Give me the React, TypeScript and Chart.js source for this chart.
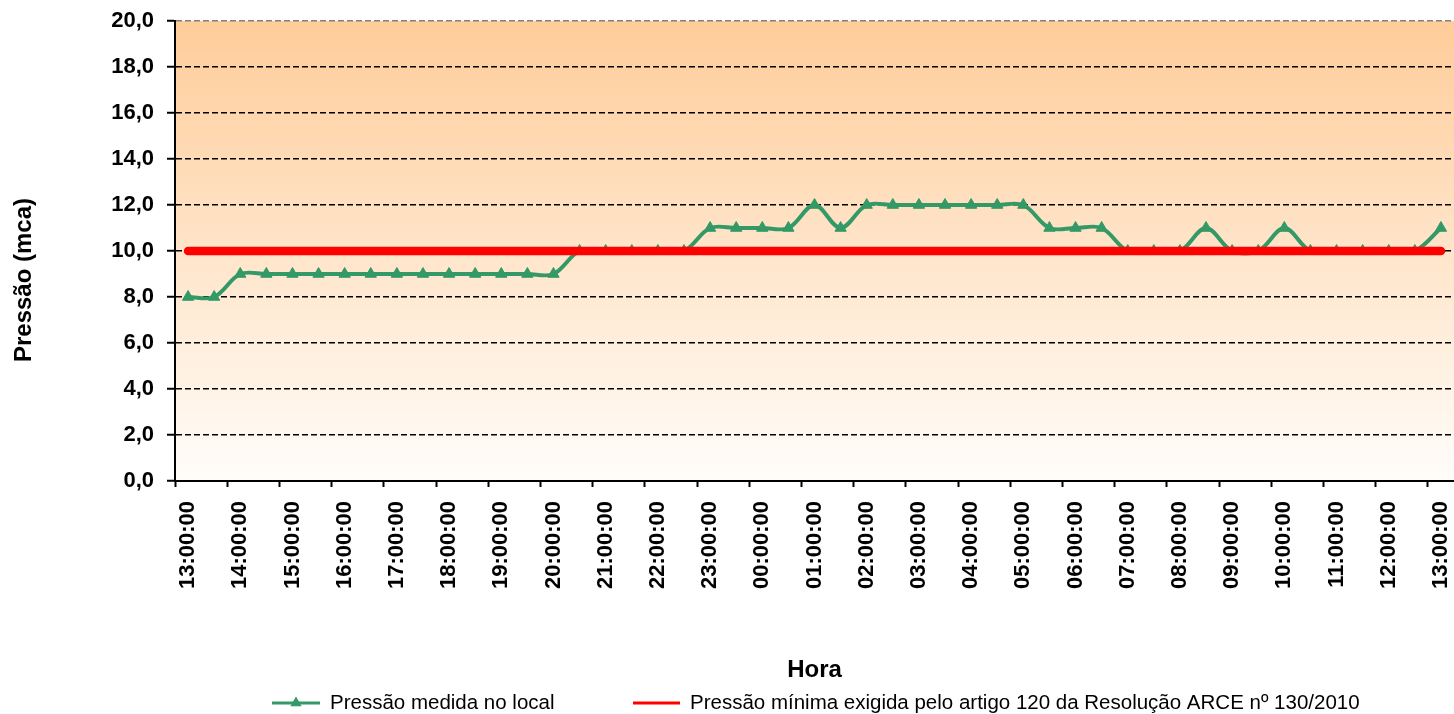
import React, { useEffect, useRef } from "react";
import { Chart, registerables } from "chart.js";

Chart.register(...registerables);

const hourLabels = [
  "13:00:00", "14:00:00", "15:00:00", "16:00:00", "17:00:00", "18:00:00", "19:00:00",
  "20:00:00", "21:00:00", "22:00:00", "23:00:00", "00:00:00", "01:00:00", "02:00:00",
  "03:00:00", "04:00:00", "05:00:00", "06:00:00", "07:00:00", "08:00:00", "09:00:00",
  "10:00:00", "11:00:00", "12:00:00", "13:00:00",
];

const measuredPressure = [
  8, 8, 9, 9, 9, 9, 9, 9, 9, 9, 9, 9, 9, 9, 9, 10, 10, 10, 10, 10, 11, 11, 11, 11, 12,
  11, 12, 12, 12, 12, 12, 12, 12, 11, 11, 11, 10, 10, 10, 11, 10, 10, 11, 10, 10, 10,
  10, 10, 11,
];

const minimumPressure = [
  10, 10, 10, 10, 10, 10, 10, 10, 10, 10, 10, 10, 10, 10, 10, 10, 10, 10, 10, 10, 10,
  10, 10, 10, 10, 10, 10, 10, 10, 10, 10, 10, 10, 10, 10, 10, 10, 10, 10, 10, 10, 10,
  10, 10, 10, 10, 10, 10, 10,
];

const seriesNames = [
  "Pressão medida no local",
  "Pressão mínima exigida pelo artigo 120 da Resolução ARCE nº 130/2010",
];
const yTitle = "Pressão (mca)";
const xTitle = "Hora";

const GREEN = "#339966";
const RED = "#FF0000";
const FONT = "'Liberation Sans', Arial, sans-serif";

// half-hour categories, labelled on the hour
const categories = hourLabels.flatMap((h, i) => (i < hourLabels.length - 1 ? [h, ""] : [h]));

const backgroundPlugin = {
  id: "plotBackground",
  beforeDraw(chart: any) {
    const { ctx, chartArea } = chart;
    const g = ctx.createLinearGradient(0, chartArea.top, 0, chartArea.bottom);
    g.addColorStop(0, "rgb(255,204,153)");
    g.addColorStop(1, "rgb(255,253,250)");
    ctx.save();
    ctx.fillStyle = g;
    ctx.fillRect(chartArea.left, chartArea.top, chartArea.right - chartArea.left, chartArea.bottom - chartArea.top);
    ctx.restore();
  },
};

const annotationsPlugin = {
  id: "extraText",
  afterDraw(chart: any) {
    const { ctx } = chart;
    ctx.save();
    // y axis title
    ctx.translate(24, 280);
    ctx.rotate(-Math.PI / 2);
    ctx.fillStyle = "#000";
    ctx.font = `bold 24px ${FONT}`;
    ctx.textAlign = "center";
    ctx.textBaseline = "middle";
    ctx.fillText(yTitle, 0, 0);
    ctx.restore();

    // legend
    const ds = chart.data.datasets;
    const y = 703;
    ctx.save();
    ctx.font = `20.5px ${FONT}`;
    ctx.textBaseline = "middle";
    ctx.textAlign = "left";
    // item 1
    ctx.strokeStyle = ds[0].borderColor;
    ctx.lineWidth = 3;
    ctx.beginPath();
    ctx.moveTo(272, y);
    ctx.lineTo(320, y);
    ctx.stroke();
    ctx.fillStyle = ds[0].pointBackgroundColor;
    const r = 6.5;
    ctx.beginPath();
    ctx.moveTo(296, y - r);
    ctx.lineTo(296 + r * 0.866, y + r * 0.5);
    ctx.lineTo(296 - r * 0.866, y + r * 0.5);
    ctx.closePath();
    ctx.fill();
    ctx.fillStyle = "#000";
    ctx.fillText(ds[0].label, 330, y);
    // item 2
    ctx.strokeStyle = ds[1].borderColor;
    ctx.lineWidth = 3;
    ctx.beginPath();
    ctx.moveTo(633, y);
    ctx.lineTo(680, y);
    ctx.stroke();
    ctx.fillStyle = "#000";
    ctx.fillText(ds[1].label, 690, y);
    ctx.restore();
  },
};

export default function App() {
  const ref = useRef<HTMLCanvasElement | null>(null);

  useEffect(() => {
    if (!ref.current) return;
    const chart = new Chart(ref.current, {
      type: "line",
      data: {
        labels: categories,
        datasets: [
          {
            label: seriesNames[0],
            data: measuredPressure,
            borderColor: GREEN,
            backgroundColor: GREEN,
            pointBackgroundColor: GREEN,
            pointBorderColor: GREEN,
            pointStyle: "triangle",
            pointRadius: 6.5,
            pointBorderWidth: 1,
            borderWidth: 4,
            tension: 0.35,
            order: 1,
          },
          {
            label: seriesNames[1],
            data: minimumPressure,
            borderColor: RED,
            backgroundColor: RED,
            pointRadius: 0,
            borderWidth: 8.5,
            borderCapStyle: "round",
            tension: 0,
            order: 0,
          },
        ],
      },
      options: {
        responsive: false,
        animation: false,
        layout: { autoPadding: false, padding: { top: 21, left: 0, right: 0, bottom: 0 } },
        plugins: {
          legend: { display: false },
          tooltip: { enabled: false },
        },
        scales: {
          x: {
            type: "category",
            offset: true,
            grid: {
              offset: true,
              drawOnChartArea: false,
              tickLength: 6,
              tickWidth: 2,
              tickColor: (c: any) => (c.index % 2 === 0 ? "#000" : "rgba(0,0,0,0)"),
            },
            border: { color: "#000", width: 2 },
            ticks: {
              autoSkip: false,
              maxRotation: 90,
              minRotation: 90,
              padding: 14,
              color: "#000",
              font: { family: FONT, size: 22, weight: "bold" },
            },
            title: {
              display: true,
              text: xTitle,
              color: "#000",
              font: { family: FONT, size: 24, weight: "bold" },
              padding: { top: 0, bottom: 29 },
            },
            afterFit: (s: any) => {
              s.height = 233;
              s.paddingLeft = 0;
              s.paddingRight = 0;
            },
          },
          y: {
            min: 0,
            max: 20,
            ticks: {
              stepSize: 2,
              padding: 13,
              color: "#000",
              font: { family: FONT, size: 22, weight: "bold" },
              callback: (v: any) => Number(v).toFixed(1).replace(".", ","),
            },
            grid: {
              color: (c: any) =>
                c.tick && c.tick.value === 0 ? "rgba(0,0,0,0)" : c.tick && c.tick.value === 20 ? "#808080" : "#000",
              lineWidth: 1.5,
              tickLength: 8,
              tickWidth: 2,
              tickColor: "#000",
              tickBorderDash: [],
            },
            border: { color: "#000", width: 2, dash: [6, 3] },
            afterFit: (s: any) => {
              s.width = 175;
              s.paddingTop = 0;
              s.paddingBottom = 0;
            },
          },
        },
      },
      plugins: [backgroundPlugin, annotationsPlugin],
    } as any);
    return () => chart.destroy();
  }, []);

  return (
    <div style={{ position: "absolute", left: 0, top: 0, width: 1454, height: 714, background: "#fff" }}>
      <canvas ref={ref} width={1454} height={714} />
    </div>
  );
}
